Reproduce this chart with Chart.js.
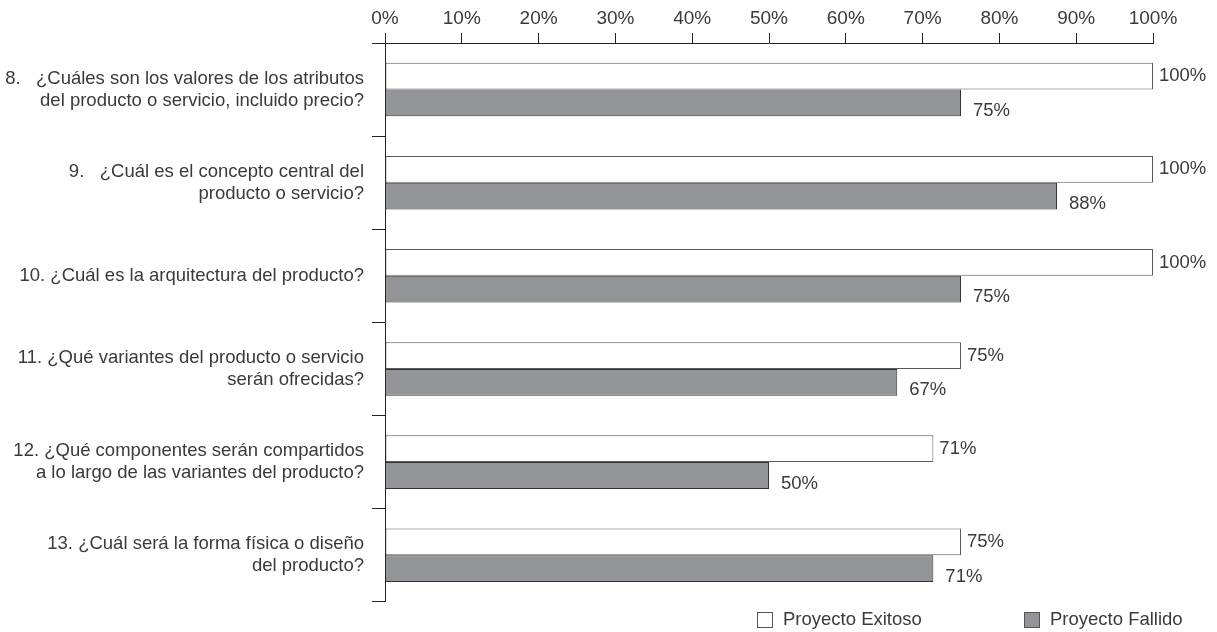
<!DOCTYPE html>
<html>
<head>
<meta charset="utf-8">
<script src="https://cdn.jsdelivr.net/npm/chart.js@4"></script>
<style>
    html, body { margin: 0; padding: 0; background: #ffffff; }
    #wrap { width: 1217px; height: 632px; position: relative; }
</style>
</head>
<body>
<div id="wrap"><canvas id="chart"></canvas></div>
<script>
const categories = [
    ['8.   ¿Cuáles son los valores de los atributos', 'del producto o servicio, incluido precio?'],
    ['9.   ¿Cuál es el concepto central del', 'producto o servicio?'],
    ['10. ¿Cuál es la arquitectura del producto?'],
    ['11. ¿Qué variantes del producto o servicio', 'serán ofrecidas?'],
    ['12. ¿Qué componentes serán compartidos', 'a lo largo de las variantes del producto?'],
    ['13. ¿Cuál será la forma física o diseño', 'del producto?']
];
const exitosoValues = [100, 100, 100, 75, 71.4, 75];
const fallidoValues = [75, 87.5, 75, 66.7, 50, 71.4];
const seriesNames = ['Proyecto Exitoso', 'Proyecto Fallido'];
const xTicks = [0, 10, 20, 30, 40, 50, 60, 70, 80, 90, 100];

const textColor = '#3a3a3a';
const fontFamily = '"Liberation Sans", Arial, Helvetica, sans-serif';

// value labels next to each bar; the grey series sits a bit lower
const valueLabels = {
    id: 'valueLabels',
    afterDatasetsDraw(chart) {
        const ctx = chart.ctx;
        ctx.save();
        ctx.font = `18.5px ${fontFamily}`;
        ctx.fillStyle = textColor;
        ctx.textAlign = 'left';
        ctx.textBaseline = 'middle';
        chart.data.datasets.forEach((ds, i) => {
            chart.getDatasetMeta(i).data.forEach((bar, j) => {
                const text = Math.round(ds.data[j]) + '%';
                if (i === 0) {
                    ctx.fillText(text, bar.x + 6, bar.y);
                } else {
                    ctx.fillText(text, bar.x + 12, bar.y + 8);
                }
            });
        });
        ctx.restore();
    }
};

// legend at the bottom right, spaced like the original
const bottomLegend = {
    id: 'bottomLegend',
    afterDraw(chart) {
        const ctx = chart.ctx;
        const positions = [757, 1024];
        const y = 620;
        ctx.save();
        ctx.font = `18.5px ${fontFamily}`;
        ctx.textBaseline = 'middle';
        chart.data.datasets.forEach((ds, i) => {
            const x = positions[i];
            ctx.fillStyle = ds.backgroundColor;
            ctx.fillRect(x + 0.5, y - 7.5, 15, 15);
            ctx.strokeStyle = '#555555';
            ctx.lineWidth = 1;
            ctx.strokeRect(x + 0.5, y - 7.5, 15, 15);
            ctx.fillStyle = textColor;
            ctx.fillText(ds.label, x + 26, y);
        });
        ctx.restore();
    }
};

new Chart(document.getElementById('chart'), {
    type: 'bar',
    data: {
        labels: categories,
        datasets: [
            {
                label: seriesNames[0],
                data: exitosoValues,
                backgroundColor: '#ffffff',
                borderColor: '#5a5a5a',
                borderWidth: 1,
                borderSkipped: false,
                barPercentage: 1,
                categoryPercentage: 0.575
            },
            {
                label: seriesNames[1],
                data: fallidoValues,
                backgroundColor: '#939497',
                borderColor: '#333333',
                borderWidth: 1,
                borderSkipped: false,
                barPercentage: 1,
                categoryPercentage: 0.575
            }
        ]
    },
    options: {
        indexAxis: 'y',
        responsive: true,
        maintainAspectRatio: false,
        animation: false,
        layout: { padding: { top: 0, right: 64, bottom: 26, left: 0 } },
        plugins: {
            legend: { display: false },
            tooltip: { enabled: false }
        },
        scales: {
            x: {
                position: 'top',
                min: 0,
                max: 100,
                afterBuildTicks(scale) {
                    scale.ticks = xTicks.map((v) => ({ value: v }));
                },
                afterFit(scale) { scale.height = 43; },
                ticks: {
                    callback: (v) => v + '%',
                    color: textColor,
                    font: { family: fontFamily, size: 19 },
                    padding: 3,
                    maxRotation: 0
                },
                grid: {
                    drawOnChartArea: false,
                    drawTicks: true,
                    tickLength: 10,
                    color: '#222222'
                },
                border: { display: true, color: '#222222', width: 1 }
            },
            y: {
                afterFit(scale) { scale.width = 385; },
                ticks: {
                    color: textColor,
                    font: { family: fontFamily, size: 18.5, lineHeight: 1.2 },
                    padding: 8
                },
                grid: {
                    drawOnChartArea: false,
                    drawTicks: true,
                    tickLength: 13,
                    color: '#222222'
                },
                border: { display: true, color: '#222222', width: 1 }
            }
        }
    },
    plugins: [valueLabels, bottomLegend]
});
</script>
</body>
</html>
